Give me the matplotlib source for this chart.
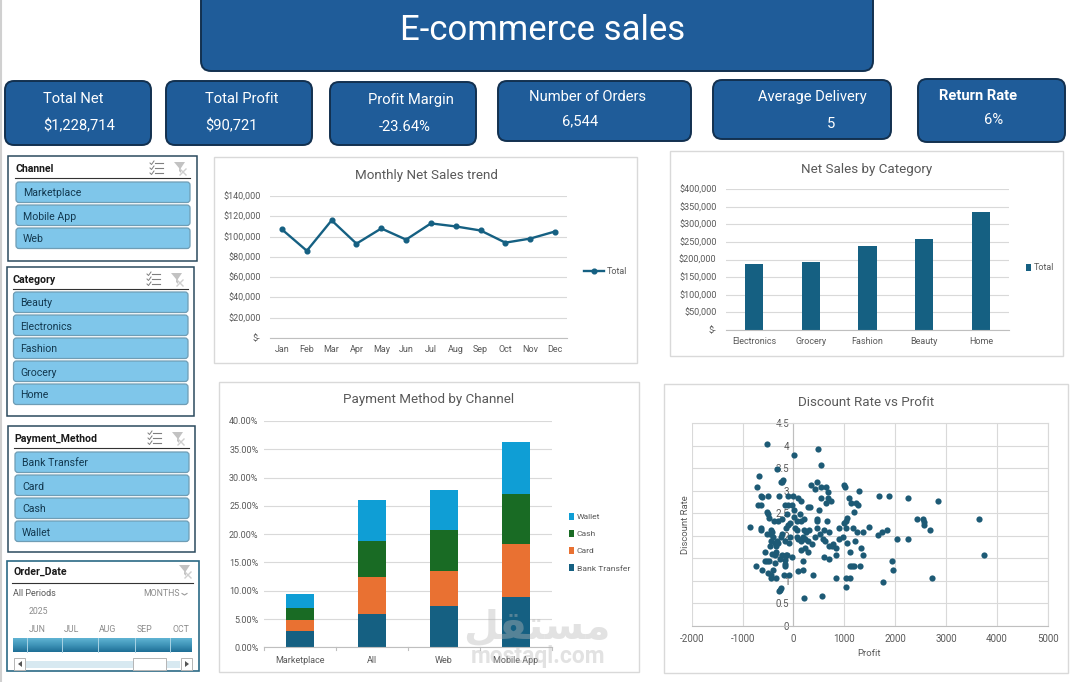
import numpy as np
import matplotlib
matplotlib.use('Agg')
import matplotlib.pyplot as plt
from matplotlib.patches import FancyBboxPatch, Rectangle, Polygon
from matplotlib.ticker import FuncFormatter

plt.rcParams['font.family'] = ['Roboto', 'DejaVu Sans']
plt.rcParams['axes.unicode_minus'] = False

W, H = 1076, 682

# Data
title = 'E-commerce sales'
kpi_names = ['Total Net', 'Total Profit', 'Profit Margin', 'Number of Orders', 'Average Delivery', 'Return Rate']
kpi_values = ['$1,228,714', '$90,721', '-23.64%', '6,544', '5', '6%']

channel_items = ['Marketplace', 'Mobile App', 'Web']
category_items = ['Beauty', 'Electronics', 'Fashion', 'Grocery', 'Home']
payment_items = ['Bank Transfer', 'Card', 'Cash', 'Wallet']
date_months = ['JUN', 'JUL', 'AUG', 'SEP', 'OCT']

months = ['Jan', 'Feb', 'Mar', 'Apr', 'May', 'Jun', 'Jul', 'Aug', 'Sep', 'Oct', 'Nov', 'Dec']
monthly_net = [107000, 86000, 116000, 93000, 108000, 97000, 113000, 110000, 106000, 94000, 98000, 105000]

sales_categories = ['Electronics', 'Grocery', 'Fashion', 'Beauty', 'Home']
sales_values = [187000, 193000, 238000, 258000, 335000]

pay_channels = ['Marketplace', 'All', 'Web', 'Mobile App']
bank_transfer = [2.9, 5.9, 7.3, 8.85]
card = [1.95, 6.6, 6.25, 9.45]
cash = [2.1, 6.26, 7.2, 8.85]
wallet = [2.5, 7.3, 7.1, 9.2]

profit = [-516, 477, 13, 542, -320, -673, -200, -229, -248, -712, 464, 346, 425, 549, 647, 680, 987, 1013, 1288,
          1680, 1876, 2248, 2837, -647, -608, -497, -281, -105, 0, 92, 150, 542, 680, 739, 634, 1092, 1131, 1235,
          1268, 1190, -699, -634, -163, -105, -33, 294, 327, 503, 13, -510, -497, -477, -124, 13, 131, -379, -301,
          -222, 72, 203, 150, 458, 471, 660, 1046, 1026, 993, 2425, 2542, 2562, 2575, 3641, -850, -634, -634, -529,
          -431, -418, -464, -150, -105, -72, 33, 72, 209, 307, 255, 471, 601, 523, 699, 895, 1026, 1170, 1248, 1366,
          1484, 1660, 1745, 1837, 2033, 2248, 2693, -399, -216, -235, -72, 65, 92, 190, 222, 157, 288, 366, 418, 582,
          614, 895, 974, 1052, 1209, -431, -366, -320, -301, -333, -464, -170, -85, 699, 778, 843, 752, 1327, 222,
          157, 288, -556, -412, -333, -366, -222, -150, -118, -26, 601, 699, 843, 1111, 1366, 3738, -268, -170, 190,
          -556, -516, -477, -359, -163, -163, -732, -614, -399, 1105, 1157, 1190, 1307, 1935, 1954, -497, -444, -444,
          -340, -183, -85, 92, 190, 386, 837, 1033, 1105, 2719, 1758, 1033, -242, -261, -274, 209, 562]
discount = [4.03, 3.92, 3.79, 3.56, 3.47, 3.32, 3.24, 3.2, 3.18, 3.07, 3.19, 3.12, 3.03, 3.07, 3.07, 2.96, 3.12, 3.08,
            2.98, 2.87, 2.87, 2.83, 2.76, 2.87, 2.85, 2.87, 2.87, 2.87, 2.87, 2.83, 2.76, 2.83, 2.83, 2.76, 2.72, 2.83,
            2.72, 2.72, 2.67, 2.52, 2.67, 2.67, 2.67, 2.67, 2.67, 2.63, 2.63, 2.56, 2.56, 2.52, 2.47, 2.39, 2.47, 2.41,
            2.47, 2.32, 2.32, 2.36, 2.32, 2.36, 2.32, 2.32, 2.36, 2.32, 2.39, 2.32, 2.27, 2.36, 2.36, 2.3, 2.24, 2.36,
            2.19, 2.16, 2.12, 2.03, 2.12, 2.07, 2.04, 2.16, 2.24, 2.27, 2.16, 2.12, 2.12, 2.12, 2.07, 2.16, 2.12, 2.03,
            2.07, 2.16, 2.16, 2.16, 2.07, 2.07, 2.19, 2.01, 2.07, 2.12, 1.92, 1.92, 2.12, 1.96, 2.03, 1.96, 1.96, 1.98,
            1.92, 1.96, 1.92, 1.87, 1.87, 1.81, 1.96, 1.92, 1.87, 1.92, 1.96, 1.83, 1.87, 1.87, 1.83, 1.87, 1.83, 1.78,
            1.76, 1.87, 1.83, 1.77, 1.81, 1.72, 1.78, 1.72, 1.72, 1.67, 1.63, 1.63, 1.59, 1.63, 1.56, 1.56, 1.56, 1.56,
            1.52, 1.52, 1.47, 1.56, 1.63, 1.56, 1.56, 1.47, 1.46, 1.43, 1.43, 1.43, 1.43, 1.39, 1.38, 1.32, 1.32, 1.23,
            1.23, 1.32, 1.32, 1.32, 1.32, 1.43, 1.23, 1.16, 1.12, 1.07, 1.07, 1.12, 1.12, 1.21, 1.23, 1.12, 1.07, 1.07,
            1.07, 1.07, 0.96, 0.87, 0.83, 0.79, 0.76, 0.61, 0.67]

# Colours
BLUE = '#1f5c99'
NAVY = '#12304f'
SKY = '#7fc6ea'
TEAL = '#156082'
GREY = '#595959'
GRID = '#d9d9d9'


def axes_px(left, top, right, bottom, **kw):
    # axes from picture pixels, y measured from the top
    return fig.add_axes([left / W, 1 - bottom / H, (right - left) / W, (bottom - top) / H], **kw)


def rbox(ax, x0, y0, x1, y1, r, fc, ec, lw=1.0, z=2):
    p = FancyBboxPatch((x0 + r, y0 + r), x1 - x0 - 2 * r, y1 - y0 - 2 * r,
                       boxstyle='round,pad=%f,rounding_size=%f' % (r, r),
                       fc=fc, ec=ec, lw=lw, zorder=z)
    ax.add_patch(p)


def panel(left, top, right, bottom):
    bg.add_patch(Rectangle((left, top), right - left, bottom - top, fc='white', ec=GRID, lw=1))


def slicer_icons(x, y, multi=True):
    if multi:
        for dy in (-5, 0, 5):
            bg.plot([x - 1, x + 7], [y + dy, y + dy], color='#7f7f7f', lw=0.8)
            bg.plot([x - 6, x - 4.5, x - 2], [y + dy, y + dy + 1.5, y + dy - 2], color='#7f7f7f', lw=0.7)
    fx = x + 18
    bg.add_patch(Polygon([[fx, y - 6], [fx + 11, y - 6], [fx + 7, y], [fx + 7, y + 5], [fx + 5, y + 3], [fx + 5, y]],
                         fc='#c2c2c2', ec='none'))
    bg.plot([fx + 6, fx + 12], [y + 1, y + 7], color='#cfcfcf', lw=1)
    bg.plot([fx + 6, fx + 12], [y + 7, y + 1], color='#cfcfcf', lw=1)


def slicer(box, name, items, x0, x1, first_y):
    bg.add_patch(Rectangle((box[0], box[1]), box[2] - box[0], box[3] - box[1], fc='white', ec='#2b4a5e', lw=1.1))
    bg.text(x0 - 1, box[1] + 13, name, fontsize=7.6, fontweight='bold', color='#1a1a1a', va='center')
    bg.plot([x0 - 1, x1], [box[1] + 22, box[1] + 22], color='#333333', lw=0.8)
    slicer_icons(box[2] - 41, box[1] + 12)
    for i, item in enumerate(items):
        top = first_y + 23 * i
        rbox(bg, x0, top, x1, top + 20.5, 3, SKY, '#6f9db5', 0.9)
        bg.text(x0 + 7, top + 11.5, item, fontsize=7.6, color='#12384f', va='center')


def money(v, pos=None):
    return '$-' if v == 0 else '${:,.0f}'.format(v)


def style_chart(ax):
    for s in ['top', 'right', 'left']:
        ax.spines[s].set_visible(False)
    ax.spines['bottom'].set_color('#bfbfbf')
    ax.spines['bottom'].set_linewidth(0.8)
    ax.grid(axis='y', color=GRID, lw=0.8)
    ax.set_axisbelow(True)
    ax.tick_params(axis='both', length=0, labelsize=6.5, labelcolor=GREY, pad=4)


fig = plt.figure(figsize=(W / 100, H / 100), dpi=100, facecolor='white')

# Pixel canvas for boxes, slicers and chart panels
bg = fig.add_axes([0, 0, 1, 1], zorder=0)
bg.set_xlim(0, W)
bg.set_ylim(H, 0)
bg.axis('off')
bg.plot([0.5, 0.5], [0, H], color='#d0d0d0', lw=1.5)

# Header
rbox(bg, 201, -12, 873, 71, 10, BLUE, NAVY, 1.4)
bg.text(543, 30, title, fontsize=25, color='white', ha='center', va='center')

# KPI cards
kpi_boxes = [(5, 81, 151, 145), (166, 81, 312, 145), (330, 82, 476, 145),
             (498, 81, 691, 141), (713, 80, 891, 139), (918, 79, 1065, 142)]
kpi_name_x = [43, 205, 368, 529, 758, 939]
kpi_value_x = [43, 205, 379, 562, 827, 984]
kpi_name_y = [99, 99, 100, 97, 97, 96]
kpi_value_y = [126, 126, 127, 121, 124, 120]
for i, b in enumerate(kpi_boxes):
    rbox(bg, b[0], b[1], b[2], b[3], 9, BLUE, NAVY, 1.4)
    weight = 'bold' if kpi_names[i] == 'Return Rate' else 'normal'
    bg.text(kpi_name_x[i], kpi_name_y[i], kpi_names[i], fontsize=10.6, color='white', va='center', fontweight=weight)
    bg.text(kpi_value_x[i], kpi_value_y[i], kpi_values[i], fontsize=10.6, color='white', va='center')

# Slicers
slicer((8, 156, 197, 261), 'Channel', channel_items, 16, 190, 182)
slicer((7, 267, 194, 416), 'Category', category_items, 13.5, 188, 292)
slicer((8, 426, 195, 552), 'Payment_Method', payment_items, 15, 189, 452)

# Date slicer
bg.add_patch(Rectangle((7, 561), 192, 110, fc='white', ec='#2b6a85', lw=1.2))
bg.text(13, 571.5, 'Order_Date', fontsize=7.6, fontweight='bold', color='#1a1a1a', va='center')
bg.plot([12, 193], [583, 583], color='#333333', lw=0.8)
slicer_icons(161, 571, multi=False)
bg.text(13, 594, 'All Periods', fontsize=6.5, color=GREY, va='center')
bg.text(143, 594, 'MONTHS', fontsize=6.3, color='#8c8c8c', va='center')
bg.plot([182, 184.5, 187], [593.5, 595, 593.5], color='#9a9a9a', lw=0.8)
bg.text(29, 612, '2025', fontsize=6.3, color='#8c8c8c', va='center')
month_x = [37, 71, 108, 145, 181]
for mx, m in zip(month_x, date_months):
    bg.text(mx, 630, m, fontsize=6.3, color='#8c8c8c', ha='center', va='center')
grad = np.linspace(0, 1, 32)[:, None]
bg.imshow(grad, extent=(13, 192, 652, 638), aspect='auto', zorder=2,
          cmap=matplotlib.colors.LinearSegmentedColormap.from_list('tl', ['#5fb3d3', '#3f94b8', '#1f6f96']))
bg.set_xlim(0, W)
bg.set_ylim(H, 0)
for sx in [27, 62, 98, 135, 170]:
    bg.plot([sx, sx], [638, 652], color='#a9d3e4', lw=0.7, zorder=3)
bg.add_patch(Rectangle((26, 661), 154, 7, fc='#d8e9f1', ec='none', zorder=2))
bg.add_patch(Rectangle((133, 658), 33, 12, fc='white', ec='#b5b5b5', lw=0.7, zorder=3))
bg.add_patch(Rectangle((14, 658), 11, 12, fc='white', ec='#b5b5b5', lw=0.7, zorder=3))
bg.add_patch(Rectangle((181, 658), 11, 12, fc='white', ec='#b5b5b5', lw=0.7, zorder=3))
bg.add_patch(Polygon([[22, 661], [22, 667], [18, 664]], fc='#555555', ec='none', zorder=4))
bg.add_patch(Polygon([[185, 661], [185, 667], [189, 664]], fc='#555555', ec='none', zorder=4))

# Chart panels
panel(214, 157, 637, 363)
panel(670, 151, 1063, 356)
panel(219, 382, 639, 672)
panel(664, 384, 1068, 673)

# Monthly line chart
ax1 = axes_px(269.6, 196, 567.4, 338, zorder=2)
ax1.patch.set_alpha(0)
ax1.plot(months, monthly_net, color=TEAL, lw=1.7, marker='o', ms=3.4, label='Total')
ax1.set_ylim(0, 140000)
ax1.set_xlim(-0.5, 11.5)
ax1.set_yticks(np.arange(0, 140001, 20000))
ax1.yaxis.set_major_formatter(FuncFormatter(money))
style_chart(ax1)
ax1.tick_params(axis='x', pad=5)
ax1.tick_params(axis='y', pad=6.5)
bg.text(426, 175, 'Monthly Net Sales trend', fontsize=9.6, color=GREY, ha='center', va='center')
ax1.legend(loc='center left', bbox_to_anchor=(1.056, 0.47), frameon=False, fontsize=6.5, labelcolor=GREY,
           handlelength=2.2, handletextpad=0.3, borderpad=0, borderaxespad=0)

# Category bar chart
ax2 = axes_px(725.6, 189, 1009.4, 330, zorder=2)
ax2.patch.set_alpha(0)
ax2.bar(sales_categories, sales_values, width=0.32, color=TEAL, label='Total')
ax2.set_ylim(0, 400000)
ax2.set_xlim(-0.5, 4.5)
ax2.set_yticks(np.arange(0, 400001, 50000))
ax2.yaxis.set_major_formatter(FuncFormatter(money))
style_chart(ax2)
ax2.tick_params(axis='x', pad=5)
ax2.tick_params(axis='y', pad=6.5)
bg.text(867, 169, 'Net Sales by Category', fontsize=9.6, color=GREY, ha='center', va='center')
ax2.legend(loc='center left', bbox_to_anchor=(1.058, 0.44), frameon=False, fontsize=6.5, labelcolor=GREY,
           handlelength=0.6, handleheight=0.9, handletextpad=0.3, borderpad=0, borderaxespad=0)

# Stacked bar chart
ax3 = axes_px(264, 421, 552, 647.3, zorder=2)
ax3.patch.set_alpha(0)
xpos = np.arange(len(pay_channels))
bottom = np.zeros(len(pay_channels))
stack = [('Bank Transfer', bank_transfer, '#156082'), ('Card', card, '#e97132'),
         ('Cash', cash, '#196b24'), ('Wallet', wallet, '#0f9ed5')]
for name, vals, col in stack:
    ax3.bar(xpos, vals, bottom=bottom, width=0.4, color=col, label=name)
    bottom = bottom + np.array(vals)
ax3.set_ylim(0, 40)
ax3.set_xlim(-0.5, 3.5)
ax3.set_yticks(np.arange(0, 41, 5))
ax3.yaxis.set_major_formatter(FuncFormatter(lambda v, p: '%.2f%%' % v))
ax3.set_xticks(xpos)
ax3.set_xticklabels(pay_channels)
style_chart(ax3)
ax3.tick_params(axis='x', pad=6)
for e in np.arange(-0.5, 3.6, 1):
    ax3.plot([e, e], [0, -0.55], color='#bfbfbf', lw=0.8, clip_on=False)
bg.text(429, 400, 'Payment Method by Channel', fontsize=9.6, color=GREY, ha='center', va='center')
h, l = ax3.get_legend_handles_labels()
ax3.legend(h[::-1], l[::-1], loc='center left', bbox_to_anchor=(1.06, 0.465), frameon=False, fontsize=6.1,
           labelcolor=GREY, handlelength=0.6, handleheight=0.9, handletextpad=0.3, borderpad=0, borderaxespad=0,
           labelspacing=1.15)

# Scatter
ax4 = axes_px(691.7, 423, 1047.7, 625.7, zorder=2)
ax4.patch.set_alpha(0)
ax4.scatter(profit, discount, s=20, color='#1d5a75', zorder=3, linewidths=0)
ax4.set_xlim(-2000, 5000)
ax4.set_ylim(0, 4.5)
ax4.set_xticks(np.arange(-2000, 5001, 1000))
ax4.set_yticks(np.arange(0, 4.6, 0.5))
ax4.set_yticklabels(['0', '0.5', '1', '1.5', '2', '2.5', '3', '3.5', '4', '4.5'])
ax4.grid(color=GRID, lw=0.8)
ax4.set_axisbelow(True)
for s in ax4.spines.values():
    s.set_color(GRID)
    s.set_linewidth(0.8)
ax4.spines['left'].set_position(('data', 0))
ax4.spines['left'].set_color('#bfbfbf')
ax4.spines['bottom'].set_color('#bfbfbf')
ax4.tick_params(axis='both', length=0, labelsize=7, labelcolor=GREY, pad=3)
ax4.tick_params(axis='x', pad=6)
bg.text(866, 402, 'Discount Rate vs Profit', fontsize=9.6, color=GREY, ha='center', va='center')
bg.text(869, 654, 'Profit', fontsize=6.8, color=GREY, ha='center', va='center')
bg.text(685, 525, 'Discount Rate', fontsize=6.8, color=GREY, ha='center', va='center', rotation=90)

# Watermark on top of everything
top = fig.add_axes([0, 0, 1, 1], zorder=5)
top.set_xlim(0, W)
top.set_ylim(H, 0)
top.axis('off')
top.text(537, 628, '\ufede\ufed8\ufe98\ufeb4\ufee3', fontsize=29, fontweight='bold', color='#b8b8b8', alpha=0.4,
         ha='center', va='center', family='DejaVu Sans')
top.text(538, 657, 'mostaql.com', fontsize=16.5, fontweight='bold', color='#b8b8b8', alpha=0.4,
         ha='center', va='center')

fig.savefig('out.png', dpi=100)
